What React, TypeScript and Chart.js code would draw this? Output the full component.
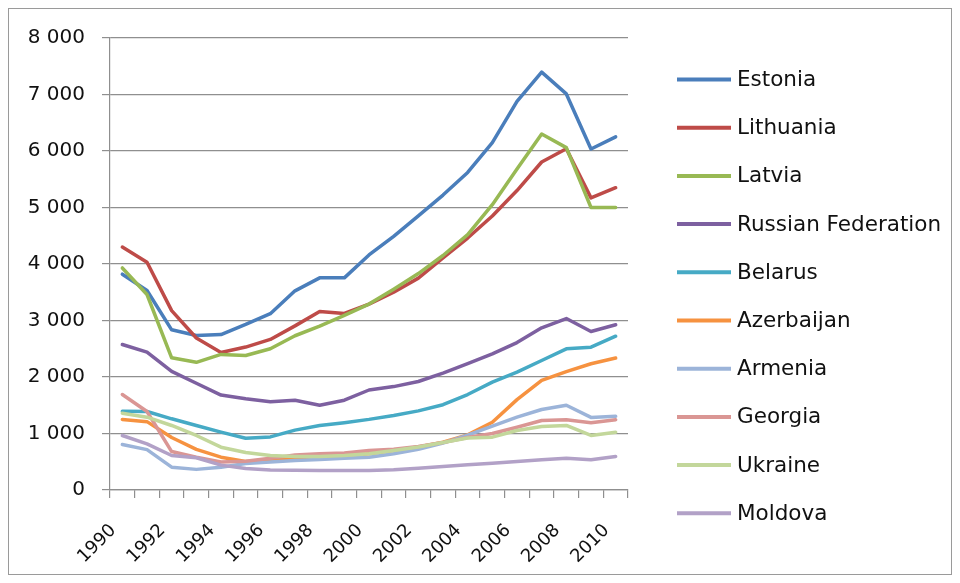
import { useEffect, useRef } from "react";
import { Chart, registerables } from "chart.js";

Chart.register(...registerables);

const years = [
  "1990", "1991", "1992", "1993", "1994", "1995", "1996", "1997", "1998", "1999", "2000",
  "2001", "2002", "2003", "2004", "2005", "2006", "2007", "2008", "2009", "2010",
];

const estonia = [3820, 3530, 2835, 2735, 2752, 2930, 3120, 3525, 3755, 3755, 4160, 4490, 4850, 5220, 5620, 6150, 6880, 7395, 7010, 6035, 6250];
const lithuania = [4300, 4030, 3175, 2690, 2435, 2530, 2665, 2905, 3160, 3125, 3290, 3500, 3750, 4110, 4460, 4850, 5300, 5805, 6040, 5170, 5350];
const latvia = [3930, 3460, 2340, 2260, 2400, 2380, 2500, 2730, 2900, 3090, 3290, 3555, 3830, 4150, 4520, 5050, 5680, 6300, 6060, 5000, 5000];
const russia = [2575, 2440, 2100, 1890, 1680, 1614, 1560, 1590, 1500, 1590, 1770, 1830, 1920, 2070, 2235, 2410, 2610, 2870, 3035, 2805, 2925];
const belarus = [1395, 1390, 1260, 1142, 1024, 915, 940, 1060, 1140, 1192, 1250, 1319, 1400, 1510, 1690, 1909, 2085, 2292, 2499, 2528, 2722];
const azerbaijan = [1248, 1210, 930, 720, 581, 505, 520, 570, 593, 615, 640, 700, 760, 846, 975, 1200, 1600, 1940, 2095, 2235, 2335];
const armenia = [805, 715, 404, 365, 404, 470, 495, 520, 540, 560, 580, 640, 720, 830, 970, 1130, 1289, 1425, 1500, 1285, 1305];
const georgia = [1690, 1390, 680, 580, 496, 510, 560, 620, 640, 655, 700, 720, 770, 840, 930, 1000, 1110, 1230, 1242, 1189, 1242];
const ukraine = [1359, 1289, 1142, 965, 758, 665, 611, 593, 593, 611, 640, 700, 760, 840, 920, 935, 1053, 1124, 1142, 965, 1024];
const moldova = [965, 817, 611, 570, 440, 380, 355, 350, 345, 345, 345, 357, 386, 416, 445, 475, 504, 534, 563, 534, 593];

const seriesNames = [
  "Estonia", "Lithuania", "Latvia", "Russian Federation", "Belarus",
  "Azerbaijan", "Armenia", "Georgia", "Ukraine", "Moldova",
];
const seriesValues = [estonia, lithuania, latvia, russia, belarus, azerbaijan, armenia, georgia, ukraine, moldova];
const seriesColors = [
  "#4a7ebb", "#be4b48", "#98b954", "#7d60a0", "#46aac5",
  "#f69240", "#9cb4d9", "#da9694", "#c3d79b", "#b2a1c7",
];

const yMax = 8000;
const yStep = 1000;

const AXIS_GRAY = "#8f8f8f";
const TEXT = "#111111";
const FONT = "'DejaVu Sans', sans-serif";

const formatThousands = (v: number) =>
  String(v).replace(/\B(?=(\d{3})+(?!\d))/g, " ");

// Legend drawn to the right of the plot: a short line sample followed by the name.
const sideLegend = {
  id: "sideLegend",
  afterDraw(chart: any) {
    const { ctx, chartArea } = chart;
    const x0 = chartArea.right + 49;
    const y0 = 70.5;
    const step = 48.2;
    ctx.save();
    ctx.font = `21.5px ${FONT}`;
    ctx.textBaseline = "middle";
    ctx.textAlign = "left";
    chart.data.datasets.forEach((ds: any, i: number) => {
      const y = y0 + i * step;
      ctx.strokeStyle = ds.borderColor;
      ctx.lineWidth = 4;
      ctx.lineCap = "butt";
      ctx.beginPath();
      ctx.moveTo(x0, y);
      ctx.lineTo(x0 + 54, y);
      ctx.stroke();
      ctx.fillStyle = TEXT;
      ctx.fillText(ds.label, x0 + 60, y + 1);
    });
    ctx.restore();
  },
};

export default function App() {
  const canvasRef = useRef<HTMLCanvasElement | null>(null);

  useEffect(() => {
    if (!canvasRef.current) return;
    const n = seriesNames.length;
    const chart = new Chart(canvasRef.current, {
      type: "line",
      data: {
        labels: years,
        datasets: seriesNames.map((name, i) => ({
          label: name,
          data: seriesValues[i],
          borderColor: seriesColors[i],
          backgroundColor: seriesColors[i],
          borderWidth: 3.5,
          pointRadius: 0,
          tension: 0,
          borderJoinStyle: "round" as const,
          borderCapStyle: "round" as const,
          order: n - i,
        })),
      },
      options: {
        responsive: false,
        maintainAspectRatio: false,
        animation: false,
        layout: { padding: { left: 0, right: 323, top: 28, bottom: 0 } },
        plugins: {
          legend: { display: false },
          tooltip: { enabled: false },
        },
        scales: {
          x: {
            type: "category",
            offset: true,
            grid: {
              offset: true,
              drawOnChartArea: false,
              drawTicks: true,
              tickLength: 8,
              color: AXIS_GRAY,
              lineWidth: 1.2,
            },
            border: { display: true, color: AXIS_GRAY, width: 1.2 },
            ticks: {
              autoSkip: false,
              maxRotation: 45,
              minRotation: 45,
              padding: 22,
              labelOffset: -9,
              color: TEXT,
              font: { family: FONT, size: 18 },
              callback: (_v: any, idx: number) => (idx % 2 === 0 ? years[idx] : ""),
            },
            afterFit: (scale: any) => {
              scale.height = 84;
            },
          },
          y: {
            min: 0,
            max: yMax,
            ticks: {
              stepSize: yStep,
              padding: 17,
              color: TEXT,
              font: { family: FONT, size: 20 },
              callback: (v: any) => formatThousands(Number(v)),
            },
            grid: {
              color: AXIS_GRAY,
              lineWidth: 1.2,
              tickLength: 8,
            },
            border: { display: true, color: AXIS_GRAY, width: 1.2 },
            afterFit: (scale: any) => {
              scale.width = 101;
            },
          },
        },
      },
      plugins: [sideLegend],
    });
    return () => chart.destroy();
  }, []);

  return (
    <div
      style={{
        width: 944,
        height: 567,
        boxSizing: "border-box",
        border: "1px solid #9a9a9a",
        background: "#ffffff",
      }}
    >
      <canvas ref={canvasRef} width={942} height={565} style={{ display: "block" }} />
    </div>
  );
}
